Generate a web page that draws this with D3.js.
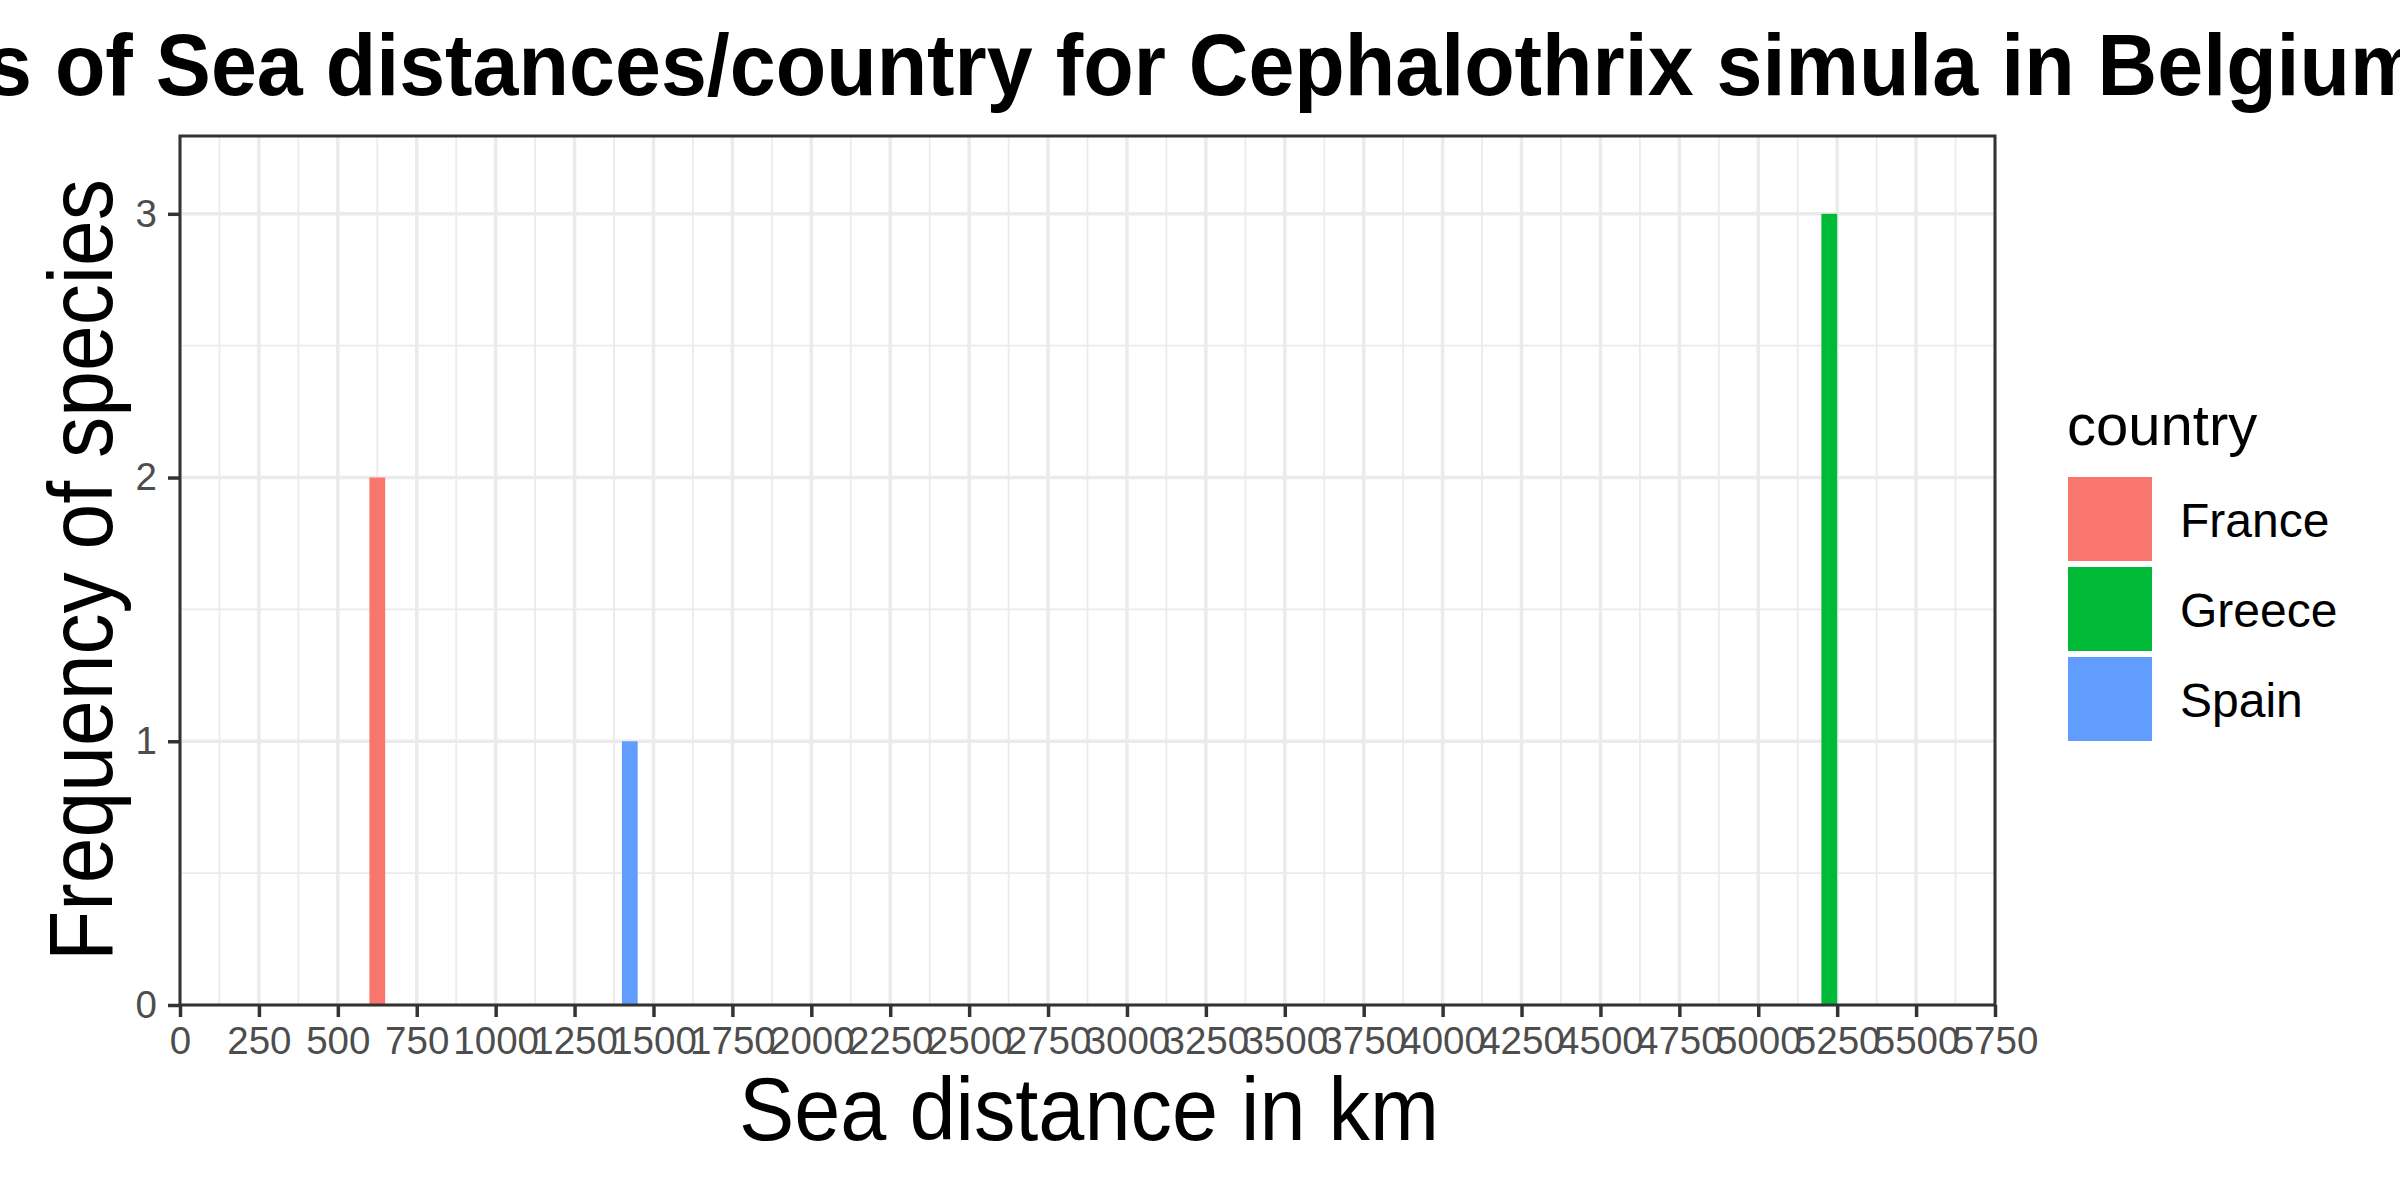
<!DOCTYPE html>
<html>
<head>
<meta charset="utf-8">
<script src="https://cdn.jsdelivr.net/npm/d3@7"></script>
<style>
  html, body { margin: 0; padding: 0; background: #ffffff; }
  svg { display: block; }
  text { font-family: "Liberation Sans", Arial, sans-serif; }
</style>
</head>
<body>
<svg id="chart" width="2400" height="1200"></svg>
<script>
// ---------------- data ----------------
const countries = ["France", "Greece", "Spain"];
const countryColors = ["#F8766D", "#00BA38", "#619CFF"];
const binStarts = [600, 5200, 1400];   // km, left edge of each histogram bin
const binEnds   = [650, 5250, 1450];   // km, right edge of each histogram bin
const counts    = [2, 3, 1];           // frequency of species per bin
const xTickValues = [0, 250, 500, 750, 1000, 1250, 1500, 1750, 2000, 2250, 2500, 2750,
                     3000, 3250, 3500, 3750, 4000, 4250, 4500, 4750, 5000, 5250, 5500, 5750];
const xMinorValues = [125, 375, 625, 875, 1125, 1375, 1625, 1875, 2125, 2375, 2625, 2875,
                      3125, 3375, 3625, 3875, 4125, 4375, 4625, 4875, 5125, 5375, 5625];
const yTickValues = [0, 1, 2, 3];
const yMinorValues = [0.5, 1.5, 2.5];
const titleText = "Histograms of Sea distances/country for Cephalothrix simula in Belgium";
const xTitle = "Sea distance in km";
const yTitle = "Frequency of species";
const legendTitle = "country";

// ---------------- layout ----------------
const panel = { left: 180, right: 1995, top: 136, bottom: 1005 };
const svg = d3.select("#chart");

const x = d3.scaleLinear().domain([0, 5750]).range([panel.left, panel.right]);
const y = d3.scaleLinear().domain([0, 3.295]).range([panel.bottom, panel.top]);
const color = d3.scaleOrdinal().domain(countries).range(countryColors);

svg.append("rect").attr("width", 2400).attr("height", 1200).attr("fill", "#ffffff");
svg.append("rect")
  .attr("x", panel.left).attr("y", panel.top)
  .attr("width", panel.right - panel.left).attr("height", panel.bottom - panel.top)
  .attr("fill", "#ffffff");

const grid = svg.append("g");
// minor grid
grid.selectAll("line.xminor").data(xMinorValues).join("line")
  .attr("x1", d => x(d)).attr("x2", d => x(d))
  .attr("y1", panel.top).attr("y2", panel.bottom)
  .attr("stroke", "#EBEBEB").attr("stroke-width", 1.8);
grid.selectAll("line.yminor").data(yMinorValues).join("line")
  .attr("y1", d => y(d)).attr("y2", d => y(d))
  .attr("x1", panel.left).attr("x2", panel.right)
  .attr("stroke", "#EBEBEB").attr("stroke-width", 1.8);
// major grid
grid.selectAll("line.xmajor").data(xTickValues).join("line")
  .attr("x1", d => x(d)).attr("x2", d => x(d))
  .attr("y1", panel.top).attr("y2", panel.bottom)
  .attr("stroke", "#EBEBEB").attr("stroke-width", 3.5);
grid.selectAll("line.ymajor").data(yTickValues).join("line")
  .attr("y1", d => y(d)).attr("y2", d => y(d))
  .attr("x1", panel.left).attr("x2", panel.right)
  .attr("stroke", "#EBEBEB").attr("stroke-width", 3.5);

// bars
svg.append("g").selectAll("rect").data(countries).join("rect")
  .attr("x", (d, i) => x(binStarts[i]))
  .attr("width", (d, i) => x(binEnds[i]) - x(binStarts[i]))
  .attr("y", (d, i) => y(counts[i]))
  .attr("height", (d, i) => y(0) - y(counts[i]))
  .attr("fill", d => color(d));

// panel border
svg.append("rect")
  .attr("x", panel.left).attr("y", panel.top)
  .attr("width", panel.right - panel.left).attr("height", panel.bottom - panel.top)
  .attr("fill", "none").attr("stroke", "#333333").attr("stroke-width", 3);

// axes
const xAxis = d3.axisBottom(x).tickValues(xTickValues).tickFormat(d3.format("d"))
  .tickSize(12).tickPadding(10);
const gx = svg.append("g").attr("transform", `translate(0,${panel.bottom})`).call(xAxis);
gx.select(".domain").remove();
gx.selectAll(".tick line").attr("stroke", "#333333").attr("stroke-width", 3.5);
gx.selectAll(".tick text").attr("fill", "#4D4D4D").attr("font-size", 38.5)
  .attr("font-family", "Liberation Sans, Arial, sans-serif");

const yAxis = d3.axisLeft(y).tickValues(yTickValues).tickFormat(d3.format("d"))
  .tickSize(12).tickPadding(11);
const gy = svg.append("g").attr("transform", `translate(${panel.left},0)`).call(yAxis);
gy.select(".domain").remove();
gy.selectAll(".tick line").attr("stroke", "#333333").attr("stroke-width", 3.5);
gy.selectAll(".tick text").attr("fill", "#4D4D4D").attr("font-size", 38.5)
  .attr("font-family", "Liberation Sans, Arial, sans-serif");

// helper: squeeze text to a target width
function fitText(sel, targetWidth) {
  const w = sel.node().getComputedTextLength();
  sel.attr("textLength", targetWidth).attr("lengthAdjust", "spacingAndGlyphs");
  return w;
}

// title (overflows the canvas on both sides, like the reference)
const t = svg.append("text")
  .attr("font-weight", "bold").attr("font-size", 87).attr("fill", "#000000")
  .attr("y", 95).attr("x", 0).text(titleText);
{
  const node = t.node();
  const full = node.getComputedTextLength();
  const startIdx = titleText.indexOf("s of Sea");
  const endIdx = titleText.lastIndexOf("m");
  const pre = node.getSubStringLength(0, startIdx);
  const vis = node.getSubStringLength(startIdx, endIdx - startIdx);
  const k = (2350 - (-14)) / vis;
  t.attr("textLength", full * k).attr("lengthAdjust", "spacingAndGlyphs")
   .attr("x", -14 - pre * k);
}

// x title
const xt = svg.append("text").attr("font-size", 89).attr("fill", "#000000")
  .attr("y", 1140).text(xTitle);
fitText(xt, 700);
xt.attr("x", 1089 - 350);

// y title
const yt = svg.append("text").attr("font-size", 91).attr("fill", "#000000")
  .attr("transform", "translate(112,0) rotate(-90)")
  .attr("x", -(570 + 391)).attr("y", 0).text(yTitle);
fitText(yt, 782);

// legend
const leg = svg.append("g");
leg.append("text").attr("x", 2067).attr("y", 445).attr("font-size", 58)
  .attr("fill", "#000000").text(legendTitle);
const keyTop = 477, keySize = 84, keyPitch = 90;
leg.selectAll("rect.key").data(countries).join("rect")
  .attr("x", 2068).attr("y", (d, i) => keyTop + i * keyPitch)
  .attr("width", keySize).attr("height", keySize)
  .attr("fill", d => color(d));
leg.selectAll("text.lab").data(countries).join("text")
  .attr("x", 2180).attr("y", (d, i) => keyTop + i * keyPitch + 60)
  .attr("font-size", 48).attr("fill", "#000000")
  .text(d => d);
</script>
</body>
</html>
